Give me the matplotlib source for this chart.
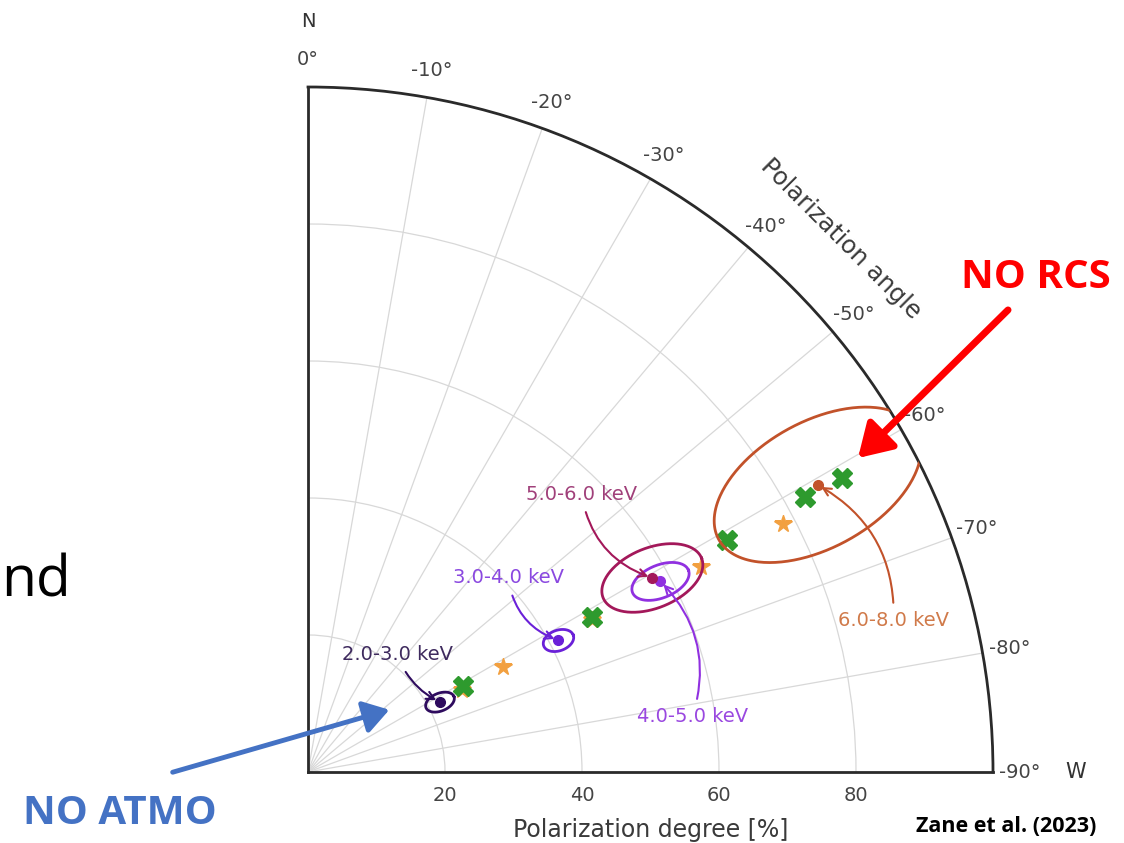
import numpy as np
import matplotlib
matplotlib.use('Agg')
import matplotlib.pyplot as plt

# ---------------- data ----------------
# green crosses (polarization degree [%], polarization angle [deg])
green_pd = [25.9, 47.3, 70.0, 82.9, 89.0]
green_pa = [-61.0, -61.4, -61.0, -61.0, -61.2]
# orange stars
star_pd = [25.5, 32.4, 47.1, 64.7, 78.2]
star_pa = [-62.0, -61.7, -61.8, -62.4, -62.4]
# energy bins
bin_labels = ['2.0-3.0 keV', '3.0-4.0 keV', '4.0-5.0 keV', '5.0-6.0 keV', '6.0-8.0 keV']
bin_pd = [21.8, 41.3, 58.5, 57.7, 85.4]
bin_pa = [-62.1, -62.3, -61.6, -60.6, -60.6]
ell_a = [2.2, 2.3, 4.4, 7.75, 16.5]      # semi-major axis [%]
ell_b = [1.3, 1.5, 2.4, 4.4, 9.2]        # semi-minor axis [%]
ell_tilt = [22, 20, 22, 22, 29]          # tilt of major axis [deg]
bin_colors = ['#2e0b5e', '#6a20d8', '#9030e0', '#a3185a', '#c2522a']
text_colors = ['#3e2a5e', '#8a48e0', '#9a48e0', '#a0407a', '#d07a4a']
label_pd = [21.5, 40.7, 56.7, 56.9, 88.3]
label_pa = [-37.3, -45.9, -81.8, -44.6, -75.5]
arrow_rad = [0.2, 0.3, 0.3, 0.3, 0.3]

theta_ticks = [0, -10, -20, -30, -40, -50, -60, -70, -80, -90]
r_ticks = [20, 40, 60, 80]

# ---------------- figure ----------------
W, H = 1124, 843
fig = plt.figure(figsize=(W / 100, H / 100), dpi=100)
ox, oy, R = 308, 772, 685
ax = fig.add_axes([ox / W, (H - oy) / H, R / W, R / H], projection='polar')
ax.set_theta_zero_location('N')
ax.set_theta_direction(-1)
ax.set_thetamin(0)
ax.set_thetamax(90)
ax.set_rlim(0, 100)

tick_col = '#444444'
ax.set_thetagrids([-t for t in theta_ticks], labels=[f'{t}°' for t in theta_ticks],
                  fontsize=14, color=tick_col)
ax.tick_params(axis='x', pad=9, colors=tick_col)
ax.set_rgrids(r_ticks, labels=['' for _ in r_ticks])
ax.grid(True, color='#d8d8d8', lw=0.9)
for sp in ax.spines.values():
    sp.set_color('#2a2a2a')
    sp.set_linewidth(2)

for r in r_ticks:
    ax.annotate(str(r), xy=(np.pi / 2, r), xytext=(0, -10), textcoords='offset points',
                ha='center', va='top', fontsize=14, color=tick_col, annotation_clip=False)

ax.text(0.5, -0.085, 'Polarization degree [%]', transform=ax.transAxes,
        ha='center', va='center', fontsize=17, color='#3a3a3a')
ax.text(np.radians(45), 110, 'Polarization angle', rotation=-45, ha='center', va='center',
        fontsize=17.5, color='#3a3a3a')
ax.text(0, 109.5, 'N', ha='center', va='center', fontsize=14, color='#333333')
ax.text(np.pi / 2, 112, 'W', ha='center', va='center', fontsize=15, color='#333333')

# stars and crosses
ax.plot(np.radians(-np.array(star_pa)), star_pd, ls='none', marker='*', ms=13,
        color='#f2a040', zorder=3)
ax.plot(np.radians(-np.array(green_pa)), green_pd, ls='none', marker='X', ms=14,
        color='#2e9a2e', zorder=4)

# energy bins with error ellipses
t = np.linspace(0, 2 * np.pi, 300)
for i in range(len(bin_labels)):
    th = np.radians(-bin_pa[i])
    xc, yc = bin_pd[i] * np.sin(th), bin_pd[i] * np.cos(th)
    phi = np.radians(ell_tilt[i])
    ex = xc + ell_a[i] * np.cos(t) * np.cos(phi) - ell_b[i] * np.sin(t) * np.sin(phi)
    ey = yc + ell_a[i] * np.cos(t) * np.sin(phi) + ell_b[i] * np.sin(t) * np.cos(phi)
    ax.plot(np.arctan2(ex, ey), np.hypot(ex, ey), color=bin_colors[i], lw=2, zorder=5)
    ax.plot(th, bin_pd[i], 'o', ms=7, color=bin_colors[i], zorder=6)
    ax.annotate(bin_labels[i], xy=(th, bin_pd[i]),
                xytext=(np.radians(-label_pa[i]), label_pd[i]), textcoords='data',
                ha='center', va='center', fontsize=14, color=text_colors[i],
                arrowprops=dict(arrowstyle='->', color=bin_colors[i], lw=1.5,
                                shrinkA=4, shrinkB=3,
                                connectionstyle=f'arc3,rad={arrow_rad[i]}'),
                zorder=7)

# ---------------- slide overlays ----------------
fig.text(1 / W, 1 - 582 / H, 'nd', ha='left', va='center', fontsize=41,
         family='Open Sans', color='black')
fig.text(1036 / W, 1 - 278 / H, 'NO RCS', ha='center', va='center', fontsize=29,
         family='Open Sans', weight='bold', color='#ff0000')
fig.text(120 / W, 1 - 813 / H, 'NO ATMO', ha='center', va='center', fontsize=29,
         family='Open Sans', weight='bold', color='#4472c4')
fig.text(1006 / W, 1 - 826 / H, 'Zane et al. (2023)', ha='center', va='center', fontsize=15.5,
         family='Open Sans', weight='bold', color='black')

fig.patches.append(matplotlib.patches.FancyArrowPatch(
    (170, H - 773), (392, H - 709), transform=None, arrowstyle='-|>,head_length=0.7,head_width=0.45',
    mutation_scale=22, lw=3.5, color='#4472c4'))
fig.patches.append(matplotlib.patches.FancyArrowPatch(
    (1010, H - 308), (856, H - 460), transform=None, arrowstyle='-|>,head_length=0.9,head_width=0.55',
    mutation_scale=22, lw=5, color='#ff0000'))

fig.savefig('out.png', dpi=100)
